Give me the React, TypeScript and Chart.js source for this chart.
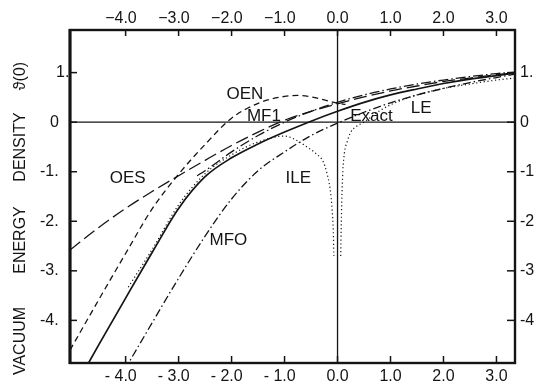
import { useEffect, useRef } from "react";
import { Chart, registerables } from "chart.js";

Chart.register(...registerables);

// ---- axis ticks ----
const xTicks = [-4, -3, -2, -1, 0, 1, 2, 3];
const topTickLabels = ["−4.0", "−3.0", "−2.0", "−1.0", "0.0", "1.0", "2.0", "3.0"];
const bottomTickLabels = ["- 4.0", "- 3.0", "- 2.0", "- 1.0", "0.0", "1.0", "2.0", "3.0"];
const yTicks = [1, 0, -1, -2, -3, -4];
const leftTickLabels = ["1.", "0", "-1.", "-2.", "-3.", "-4."];
const rightTickLabels = ["1.", "0", "-1.", "-2", "-3", "-4"];
const yTitleWords = ["VACUUM", "ENERGY", "DENSITY", "ϑ(0)"];

// ---- curves ----
const exactX = [-4.8, -4.5, -4.0, -3.5, -3.0, -2.5, -2.0, -1.5, -1.0, -0.5, 0, 0.5, 1.0, 1.5, 2.0, 2.5, 3.0, 3.35];
const exactY = [-5.05, -4.48, -3.55, -2.63, -1.74, -1.1, -0.72, -0.44, -0.2, 0.02, 0.22, 0.4, 0.55, 0.67, 0.78, 0.87, 0.94, 0.99];

const ileX = [-3.95, -3.5, -3.0, -2.5, -2.0, -1.5, -1.0, -0.75, -0.55, -0.4, -0.27, -0.2, -0.14, -0.1, -0.08, -0.07];
const ileY = [-3.33, -2.57, -1.67, -1.04, -0.66, -0.4, -0.28, -0.38, -0.52, -0.64, -0.8, -1.03, -1.35, -1.8, -2.2, -2.7];

const leX = [0.06, 0.07, 0.08, 0.1, 0.13, 0.18, 0.25, 0.35, 0.5, 0.75, 1.0, 1.5, 2.0, 2.5, 3.0, 3.35];
const leY = [-2.7, -2.1, -1.6, -1.0, -0.62, -0.4, -0.2, -0.09, 0.0, 0.2, 0.35, 0.55, 0.68, 0.77, 0.85, 0.89];

const oesX = [-5.05, -4.5, -4.0, -3.5, -3.0, -2.5, -2.0, -1.5, -1.0, -0.5, 0, 0.5, 1.0, 1.5, 2.0, 2.5, 3.0, 3.35];
const oesY = [-2.58, -2.12, -1.74, -1.4, -1.08, -0.77, -0.47, -0.2, 0.04, 0.22, 0.37, 0.51, 0.63, 0.73, 0.82, 0.89, 0.96, 1.0];

const oenX = [-5.05, -4.5, -4.0, -3.5, -3.0, -2.5, -2.0, -1.5, -1.0, -0.75, -0.5, -0.25, 0, 0.15];
const oenY = [-4.6, -3.57, -2.65, -1.75, -1.05, -0.45, 0.08, 0.38, 0.52, 0.54, 0.51, 0.45, 0.38, 0.36];

const mf1X = [-2.65, -2.5, -2.0, -1.5, -1.0, -0.5, 0, 0.5, 1.0, 1.5, 2.0, 2.5, 3.0, 3.35];
const mf1Y = [-1.08, -0.98, -0.6, -0.27, 0.0, 0.22, 0.4, 0.55, 0.67, 0.77, 0.85, 0.92, 0.98, 1.01];

const mfoX = [-4.02, -3.5, -3.0, -2.5, -2.0, -1.5, -1.0, -0.5, 0, 0.5, 1.0, 1.5, 2.0, 2.5, 3.0, 3.35];
const mfoY = [-5.0, -4.05, -3.15, -2.3, -1.55, -0.98, -0.6, -0.27, -0.02, 0.2, 0.39, 0.55, 0.68, 0.8, 0.9, 0.97];

// ---- in-plot labels (anchored in data units) ----
const curveLabels = ["OEN", "MF1", "OES", "Exact", "LE", "ILE", "MFO"];
const curveLabelX = [-1.75, -1.39, -3.96, 0.64, 1.58, -0.74, -2.06];
const curveLabelY = [0.57, 0.12, -1.14, 0.12, 0.28, -1.14, -2.39];

const INK = "#141414";
const FONT = '"Liberation Sans", Arial, sans-serif';

const zip = (xs: number[], ys: number[]) => xs.map((x, i) => ({ x, y: ys[i] }));

const decorPlugin = {
  id: "decor",
  afterDatasetsDraw(chart: any) {
    const { ctx, chartArea: a, scales } = chart;
    const xs = scales.x;
    const ys = scales.y;
    const seg = (x1: number, y1: number, x2: number, y2: number) => {
      ctx.beginPath();
      ctx.moveTo(x1, y1);
      ctx.lineTo(x2, y2);
      ctx.stroke();
    };
    ctx.save();
    ctx.strokeStyle = INK;
    ctx.fillStyle = INK;
    ctx.setLineDash([]);

    // zero lines
    ctx.lineWidth = 1.3;
    const x0 = xs.getPixelForValue(0);
    const y0 = ys.getPixelForValue(0);
    seg(x0, a.top, x0, a.bottom);
    seg(a.left, y0, a.right, y0);

    // frame
    ctx.lineWidth = 2.4;
    ctx.strokeRect(a.left, a.top, a.right - a.left, a.bottom - a.top);
    ctx.lineWidth = 3;
    seg(a.left, a.top - 1, a.left, a.bottom + 1);

    // ticks (inward)
    ctx.lineWidth = 1.5;
    xTicks.forEach((v) => {
      const px = xs.getPixelForValue(v);
      seg(px, a.top, px, a.top + 6);
      seg(px, a.bottom, px, a.bottom - 7);
    });
    yTicks.forEach((v) => {
      const py = ys.getPixelForValue(v);
      seg(a.left, py, a.left + 7, py);
      seg(a.right, py, a.right - 8, py);
    });

    // x tick labels: numeric part centred on the tick
    ctx.font = `16px ${FONT}`;
    ctx.textBaseline = "middle";
    ctx.textAlign = "right";
    const drawX = (lab: string, v: number, y: number) => {
      const px = xs.getPixelForValue(v);
      const num = lab.replace(/^[−\-]\s*/, "");
      const w = ctx.measureText(num).width;
      ctx.fillText(lab, px + w / 2, y);
    };
    xTicks.forEach((v, i) => {
      drawX(topTickLabels[i], v, a.top - 11);
      drawX(bottomTickLabels[i], v, a.bottom + 14);
    });

    // y tick labels
    ctx.textAlign = "left";
    yTicks.forEach((v, i) => {
      const py = ys.getPixelForValue(v);
      const lab = leftTickLabels[i];
      let lx = a.left - 30;
      if (!lab.startsWith("-")) lx = v > 0 ? a.left - 14 : a.left - 20;
      ctx.fillText(lab, lx, py);
      ctx.fillText(rightTickLabels[i], a.right + 5, py);
    });

    // y title (rotated)
    ctx.font = `16px ${FONT}`;
    ctx.textAlign = "center";
    const titleCentres = [341, 240, 147, 76];
    yTitleWords.forEach((w, i) => {
      ctx.save();
      ctx.translate(21, titleCentres[i]);
      ctx.rotate(-Math.PI / 2);
      ctx.fillText(w, 0, 0);
      ctx.restore();
    });

    // curve labels
    ctx.font = `17px ${FONT}`;
    ctx.textAlign = "center";
    curveLabels.forEach((t, i) => {
      ctx.fillText(t, xs.getPixelForValue(curveLabelX[i]), ys.getPixelForValue(curveLabelY[i]));
    });

    ctx.restore();
  },
};

export default function App() {
  const ref = useRef<HTMLCanvasElement | null>(null);
  useEffect(() => {
    if (!ref.current) return;
    const base = {
      borderColor: INK,
      pointRadius: 0,
      fill: false,
      cubicInterpolationMode: "monotone" as const,
      borderWidth: 1.3,
    };
    const chart = new Chart(ref.current, {
      type: "line",
      data: {
        datasets: [
          { ...base, label: "Exact", data: zip(exactX, exactY), borderWidth: 1.7 },
          { ...base, label: "ILE", data: zip(ileX, ileY), borderDash: [1.2, 2.6], borderWidth: 1.2 },
          { ...base, label: "LE", data: zip(leX, leY), borderDash: [1.2, 2.6], borderWidth: 1.2 },
          { ...base, label: "OES", data: zip(oesX, oesY), borderDash: [13, 5] },
          { ...base, label: "OEN", data: zip(oenX, oenY), borderDash: [6, 4] },
          { ...base, label: "MF1", data: zip(mf1X, mf1Y), borderDash: [10, 3, 1.5, 3] },
          { ...base, label: "MFO", data: zip(mfoX, mfoY), borderDash: [8, 3, 1.5, 3] },
        ],
      },
      options: {
        responsive: false,
        maintainAspectRatio: false,
        animation: false,
        layout: { padding: { left: 70, right: 20, top: 30, bottom: 26 } },
        scales: {
          x: { type: "linear", min: -5.05, max: 3.35, display: false },
          y: { type: "linear", min: -4.86, max: 1.86, display: false },
        },
        plugins: { legend: { display: false }, tooltip: { enabled: false } },
      },
      plugins: [decorPlugin],
    });
    return () => chart.destroy();
  }, []);
  return (
    <div style={{ position: "fixed", left: 0, top: 0, width: 535, height: 389, background: "#fff" }}>
      <canvas ref={ref} width={535} height={389} style={{ display: "block" }} />
    </div>
  );
}
